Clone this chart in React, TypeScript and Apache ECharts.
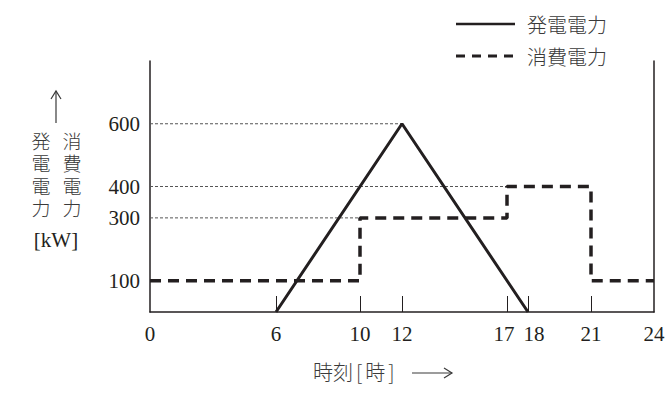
import { useEffect, useRef } from 'react'
import * as echarts from 'echarts'

const hours = [0, 6, 10, 12, 17, 18, 21, 24]
const tickHours = [6, 10, 12, 17, 18, 21]
const yLabels = [100, 300, 400, 600]

// generation: triangle 6h -> 12h -> 18h
const genHours = [6, 12, 18]
const genKw = [0, 600, 0]

// consumption: step pattern
const useHours = [0, 10, 10, 17, 17, 21, 21, 24]
const useKw = [100, 100, 300, 300, 400, 400, 100, 100]

// dotted reference lines: [value, end hour]
const refLines: [number, number][] = [
  [600, 12],
  [400, 17],
  [300, 10],
]

const seriesNames = ['発電電力', '消費電力']
const yTitleCols = ['発電電力', '消費電力']

const serif = '"Liberation Serif", "DejaVu Serif", serif'
const jp = '"Noto Sans CJK JP", sans-serif'
const ink = '#231f20'
const textInk = '#3a3a3a'

export default function App() {
  const ref = useRef<HTMLDivElement>(null)

  useEffect(() => {
    if (!ref.current) return
    const chart = echarts.init(ref.current, null, { renderer: 'svg' })

    const refSeries = refLines.map(([v, h]) => ({
      type: 'line' as const,
      data: [
        [0, v],
        [h, v],
      ],
      symbol: 'none',
      silent: true,
      lineStyle: { color: '#555', width: 1, type: [3, 2] as number[] },
      z: 1,
    }))

    // vertical y-axis title, one char per text element
    const yTitle: any[] = []
    yTitleCols.forEach((col, ci) => {
      col.split('').forEach((ch, i) => {
        yTitle.push({
          type: 'text',
          x: 41 + ci * 31,
          y: 140 + i * 22.5,
          style: {
            text: ch,
            font: `300 19px ${jp}`,
            lineHeight: 20,
            fill: textInk,
            align: 'center',
            verticalAlign: 'middle',
          },
        })
      })
    })

    const legendItems: any[] = []
    seriesNames.forEach((name, i) => {
      const y = i === 0 ? 24 : 56
      legendItems.push(
        {
          type: 'line',
          shape: { x1: 456, y1: y, x2: 515, y2: y },
          style: {
            stroke: ink,
            lineWidth: i === 0 ? 2.5 : 3,
            lineDash: i === 0 ? null : [9, 7],
          },
        },
        {
          type: 'text',
          x: 527,
          y,
          style: {
            text: name,
            font: `300 20px ${jp}`,
            fill: textInk,
            verticalAlign: 'middle',
          },
        }
      )
    })

    const option: echarts.EChartsOption = {
      animation: false,
      grid: { left: 150, right: 16, top: 61, bottom: 95 },
      xAxis: {
        type: 'value',
        min: 0,
        max: 24,
        interval: 1,
        splitLine: { show: false },
        axisLine: { lineStyle: { color: ink, width: 1.5 } },
        axisTick: {
          inside: true,
          length: 16,
          customValues: tickHours,
          lineStyle: { color: ink, width: 1 },
        },
        axisLabel: {
          customValues: hours,
          margin: 11,
          fontFamily: serif,
          fontSize: 21,
          color: ink,
          formatter: (v: number) =>
            v === 17 ? `{l|${v}}` : v === 18 ? `{r|${v}}` : String(v),
          rich: {
            l: { fontFamily: serif, fontSize: 21, color: ink, padding: [0, 6, 0, 0] },
            r: { fontFamily: serif, fontSize: 21, color: ink, padding: [0, 0, 0, 12] },
          },
        },
      },
      yAxis: [
        {
          type: 'value',
          min: 0,
          max: 800,
          interval: 100,
          splitLine: { show: false },
          axisLine: { show: true, lineStyle: { color: ink, width: 1.5 } },
          axisTick: { show: false },
          axisLabel: {
            customValues: yLabels,
            margin: 10,
            fontFamily: serif,
            fontSize: 21,
            color: ink,
          },
        },
        {
          type: 'value',
          min: 0,
          max: 800,
          position: 'right',
          splitLine: { show: false },
          axisLine: { show: true, lineStyle: { color: ink, width: 1.5 } },
          axisTick: { show: false },
          axisLabel: { show: false },
        },
      ],
      series: [
        ...refSeries,
        {
          name: seriesNames[0],
          type: 'line',
          data: genHours.map((h, i) => [h, genKw[i]]),
          symbol: 'none',
          lineStyle: { color: ink, width: 3 },
          z: 3,
        },
        {
          name: seriesNames[1],
          type: 'line',
          data: useHours.map((h, i) => [h, useKw[i]]),
          symbol: 'none',
          lineStyle: { color: ink, width: 3.5, type: [11, 7] },
          z: 3,
        },
      ],
      graphic: [
        ...legendItems,
        ...yTitle,
        // up arrow above the y title
        {
          type: 'line',
          shape: { x1: 56, y1: 123, x2: 56, y2: 91 },
          style: { stroke: textInk, lineWidth: 1.2 },
        },
        {
          type: 'polyline',
          shape: { points: [[51, 99], [56, 91], [61, 99]] },
          style: { stroke: textInk, lineWidth: 1.2, fill: null },
        },
        {
          type: 'text',
          x: 56,
          y: 240,
          style: {
            text: '[kW]',
            font: `21px ${serif}`,
            fill: ink,
            align: 'center',
            verticalAlign: 'middle',
          },
        },
        {
          type: 'text',
          x: 313,
          y: 371,
          style: {
            text: '時刻{b|[}時{b|]}',
            font: `300 20px ${jp}`,
            fill: textInk,
            verticalAlign: 'middle',
            rich: {
              b: { font: `300 20px ${jp}`, fill: textInk, padding: [0, 3, 0, 3] },
            },
          },
        },
        // right arrow after the x title
        {
          type: 'line',
          shape: { x1: 412, y1: 373, x2: 452, y2: 373 },
          style: { stroke: textInk, lineWidth: 1.2 },
        },
        {
          type: 'polyline',
          shape: { points: [[444, 368], [452, 373], [444, 378]] },
          style: { stroke: textInk, lineWidth: 1.2, fill: null },
        },
      ],
    }

    chart.setOption(option)
    return () => chart.dispose()
  }, [])

  return (
    <div
      ref={ref}
      style={{ position: 'absolute', left: 0, top: 0, width: 670, height: 407, background: '#fff' }}
    />
  )
}
